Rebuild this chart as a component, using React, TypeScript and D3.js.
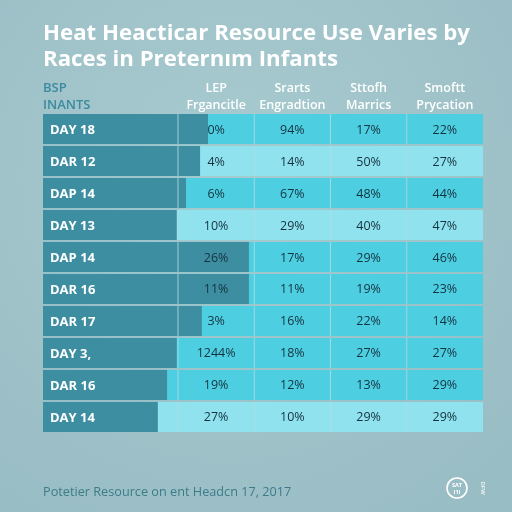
import React from 'react';
import * as d3 from 'd3';

const rowLabels = ['DAY 18', 'DAR 12', 'DAP 14', 'DAY 13', 'DAP 14', 'DAR 16', 'DAR 17', 'DAY 3,', 'DAR 16', 'DAY 14'];
const barValues = [37.5, 35.7, 32.5, 30.4, 46.8, 46.8, 36.1, 30.4, 28.2, 26.1];
const rowShade = ['mid', 'light', 'mid', 'light', 'mid', 'mid', 'mid', 'mid', 'mid', 'light'];

const columnHeaders = [
    ['LEP', 'Frgancitle'],
    ['Srarts', 'Engradtion'],
    ['Sttofh', 'Marrics'],
    ['Smoftt', 'Prycation'],
];

const lepValues = ['0%', '4%', '6%', '10%', '26%', '11%', '3%', '1244%', '19%', '27%'];
const srartsValues = ['94%', '14%', '67%', '29%', '17%', '11%', '16%', '18%', '12%', '10%'];
const sttofhValues = ['17%', '50%', '48%', '40%', '29%', '19%', '22%', '27%', '13%', '29%'];
const smofttValues = ['22%', '27%', '44%', '47%', '46%', '23%', '14%', '27%', '29%', '29%'];

const titleLines = ['Heat Heacticar Resource Use Varies by', 'Races in Preternım Infants'];
const titleWidths = [427, 295];
const footerText = 'Potetier Resource on ent Headcn 17, 2017';

const W = 512;
const H = 512;
const left = 43;
const right = 483;
const top = 114;
const bottom = 432;
const labelColRight = 178;

const colors = {
    bg: '#a0c4ca',
    bar: '#3e8ea2',
    mid: '#4dcfe1',
    light: '#8fe2ee',
    sep: '#b4dde4',
    text: '#15323f',
    header: '#3a8aa0',
    footer: '#3d7b8a',
};

export default function App() {
    const columns = [lepValues, srartsValues, sttofhValues, smofttValues];

    const y = d3.scaleBand<number>()
        .domain(d3.range(rowLabels.length))
        .range([top, bottom])
        .paddingInner(0.06);

    const x = d3.scaleLinear().domain([0, 100]).range([left, right]);

    const colX = d3.scaleBand<number>()
        .domain(d3.range(columns.length))
        .range([labelColRight, right]);

    const font = "'Open Sans', 'DejaVu Sans', sans-serif";

    return (
        <div style={{ position: 'fixed', left: 0, top: 0, width: W, height: H }}>
            <svg width={W} height={H} style={{ display: 'block' }} fontFamily={font}>
                <defs>
                    <radialGradient id="bgGrad" cx="45%" cy="35%" r="75%">
                        <stop offset="0%" stopColor="#a7cbcf" />
                        <stop offset="100%" stopColor="#99bdc4" />
                    </radialGradient>
                </defs>
                <rect width={W} height={H} fill="url(#bgGrad)" />

                {/* Title */}
                {titleLines.map((line, i) => (
                    <text key={i} x={left} y={40 + i * 26} fill="#ffffff" fontSize={21} fontWeight={700}
                        textLength={titleWidths[i]} lengthAdjust="spacingAndGlyphs">
                        {line}
                    </text>
                ))}

                {/* Row header label */}
                <text x={left} y={92} fill={colors.header} fontSize={13} fontWeight={600}>BSP</text>
                <text x={left} y={109} fill={colors.header} fontSize={13} fontWeight={600}>INANTS</text>

                {/* Column headers */}
                {columnHeaders.map((lines, i) => (
                    <g key={i}>
                        {lines.map((t, j) => (
                            <text
                                key={j}
                                x={(colX(i) as number) + colX.bandwidth() / 2}
                                y={91.5 + j * 17}
                                textAnchor="middle"
                                fill="#ffffff"
                                fontSize={12.5}
                                fontWeight={600}
                            >
                                {t}
                            </text>
                        ))}
                    </g>
                ))}

                {/* Rows */}
                {rowLabels.map((label, i) => {
                    const ry = y(i) as number;
                    const rh = y.bandwidth();
                    return (
                        <g key={i}>
                            <rect x={left} y={ry} width={right - left} height={rh}
                                fill={rowShade[i] === 'light' ? colors.light : colors.mid} />
                            <rect x={left} y={ry} width={x(barValues[i]) - left} height={rh} fill={colors.bar} />
                            {d3.range(columns.length).map((c) => (
                                <line key={c}
                                    x1={colX(c) as number} x2={colX(c) as number}
                                    y1={ry} y2={ry + rh}
                                    stroke={colors.sep} strokeWidth={1} strokeOpacity={0.8} />
                            ))}
                            <text x={left + 7} y={ry + rh / 2} dy="0.36em" fill="#ffffff"
                                fontSize={13} fontWeight={700}>
                                {label}
                            </text>
                            {columns.map((vals, c) => (
                                <text key={c}
                                    x={(colX(c) as number) + colX.bandwidth() / 2}
                                    y={ry + rh / 2}
                                    dy="0.36em"
                                    textAnchor="middle"
                                    fill={colors.text}
                                    fontSize={12.5}
                                    fontWeight={500}
                                >
                                    {vals[i]}
                                </text>
                            ))}
                        </g>
                    );
                })}

                {/* Footer */}
                <text x={left} y={496} fill={colors.footer} fontSize={12.7}>{footerText}</text>

                {/* Logo */}
                <g transform="translate(457,488)">
                    <circle r={10} fill="none" stroke="#ffffff" strokeWidth={1.6} />
                    <text y={-1} textAnchor="middle" fill="#ffffff" fontSize={5.5} fontWeight={700}>SAT</text>
                    <text y={5.5} textAnchor="middle" fill="#ffffff" fontSize={5.5} fontWeight={700}>I1I</text>
                </g>
                <text transform="translate(481,488) rotate(90)" textAnchor="middle" fill="#ffffff"
                    fontSize={6} fontWeight={600} fillOpacity={0.85}>DFW</text>
            </svg>
        </div>
    );
}
